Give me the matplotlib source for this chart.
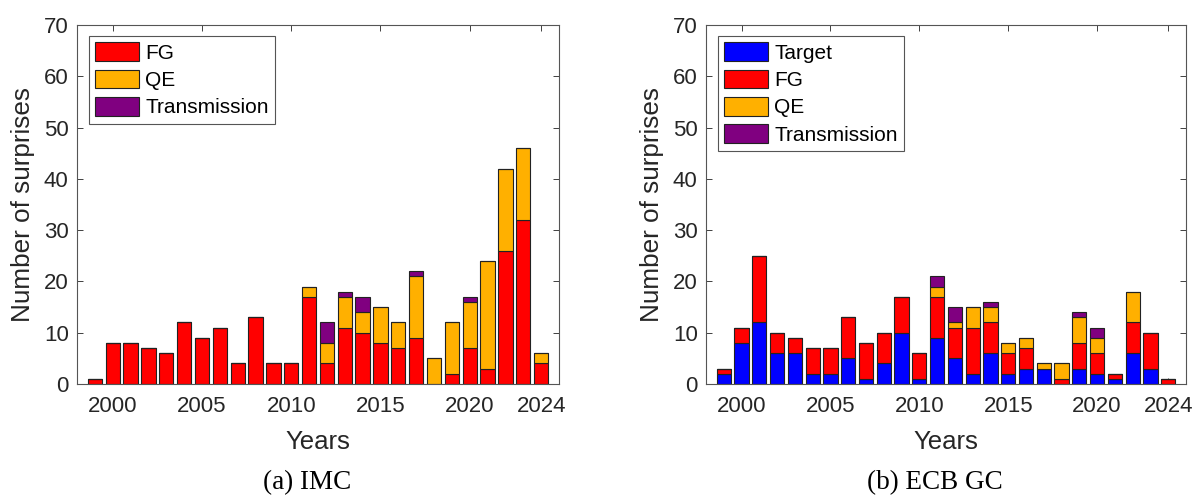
import matplotlib
matplotlib.use("Agg")
import matplotlib.pyplot as plt
import numpy as np

years = list(range(1999, 2025))

# Panel (a) IMC
imc_fg = [1, 8, 8, 7, 6, 12, 9, 11, 4, 13, 4, 4, 17, 4, 11, 10, 8, 7, 9, 0, 2, 7, 3, 26, 32, 4]
imc_qe = [0, 0, 0, 0, 0, 0, 0, 0, 0, 0, 0, 0, 2, 4, 6, 4, 7, 5, 12, 5, 10, 9, 21, 16, 14, 2]
imc_tr = [0, 0, 0, 0, 0, 0, 0, 0, 0, 0, 0, 0, 0, 4, 1, 3, 0, 0, 1, 0, 0, 1, 0, 0, 0, 0]

# Panel (b) ECB GC
ecb_tg = [2, 8, 12, 6, 6, 2, 2, 5, 1, 4, 10, 1, 9, 5, 2, 6, 2, 3, 3, 0, 3, 2, 1, 6, 3, 0]
ecb_fg = [1, 3, 13, 4, 3, 5, 5, 8, 7, 6, 7, 5, 8, 6, 9, 6, 4, 4, 0, 1, 5, 4, 1, 6, 7, 1]
ecb_qe = [0, 0, 0, 0, 0, 0, 0, 0, 0, 0, 0, 0, 2, 1, 4, 3, 2, 2, 1, 3, 5, 3, 0, 6, 0, 0]
ecb_tr = [0, 0, 0, 0, 0, 0, 0, 0, 0, 0, 0, 0, 2, 3, 0, 1, 0, 0, 0, 0, 1, 2, 0, 0, 0, 0]

xticks = [2000, 2005, 2010, 2015, 2020, 2024]
yticks = [0, 10, 20, 30, 40, 50, 60, 70]

C_T = "#0000FF"
C_FG = "#FF0000"
C_QE = "#FFB000"
C_TR = "#800080"

plt.rcParams['font.family'] = ['Liberation Sans', 'DejaVu Sans']
TXT = "#262626"

W, H = 1196, 496
fig = plt.figure(figsize=(W / 100, H / 100), dpi=100)
ax1 = fig.add_axes([77 / W, 1 - 384 / H, 482 / W, 359 / H])
ax2 = fig.add_axes([706 / W, 1 - 384 / H, 480 / W, 359 / H])


def stack(ax, series):
    bottom = np.zeros(len(years))
    for vals, col, lab in series:
        v = np.array(vals, dtype=float)
        ax.bar(years, v, 0.8, bottom=bottom, color=col, edgecolor="#222222",
               linewidth=0.8, label=lab, zorder=2)
        bottom += v


stack(ax1, [(imc_fg, C_FG, "FG"), (imc_qe, C_QE, "QE"), (imc_tr, C_TR, "Transmission")])
stack(ax2, [(ecb_tg, C_T, "Target"), (ecb_fg, C_FG, "FG"), (ecb_qe, C_QE, "QE"),
            (ecb_tr, C_TR, "Transmission")])

for ax in (ax1, ax2):
    ax.set_xlim(1998, 2025)
    ax.set_ylim(0, 70)
    ax.set_xticks(xticks)
    ax.set_yticks(yticks)
    ax.tick_params(direction="in", length=4, width=0.7, color="#404040",
                   labelsize=16, labelcolor=TXT, top=True, right=True)
    ax.tick_params(axis="x", pad=9)
    ax.tick_params(axis="y", pad=6)
    for s in ax.spines.values():
        s.set_color("#555555")
        s.set_linewidth(0.8)
    ax.set_xlabel("Years", fontsize=18.5, color=TXT, va="center")
    ax.set_ylabel("Number of surprises", fontsize=18.8, color=TXT, va="center")
    bb_w = ax.get_position().width * W
    ax.xaxis.set_label_coords(0.5, -(442 - 384) / 359)
    ax.yaxis.set_label_coords(-54 / bb_w, 0.5)
    leg = ax.legend(loc="upper left", fontsize=15, handlelength=2.1, handleheight=1.0,
                    handletextpad=0.3, labelspacing=0.33, borderpad=0.3,
                    fancybox=False, framealpha=1,
                    bbox_to_anchor=(12 / bb_w, 1 - 11 / 359), borderaxespad=0)
    leg.get_frame().set_edgecolor("#555555")
    leg.get_frame().set_linewidth(0.8)

fig.text(307 / W, 1 - 483 / H, "(a) IMC", ha="center", va="center",
         fontsize=19.5, family=["Liberation Serif", "DejaVu Serif"], color="black")
fig.text(935 / W, 1 - 483 / H, "(b) ECB GC", ha="center", va="center",
         fontsize=19.5, family=["Liberation Serif", "DejaVu Serif"], color="black")

fig.savefig("out.png", dpi=100)
